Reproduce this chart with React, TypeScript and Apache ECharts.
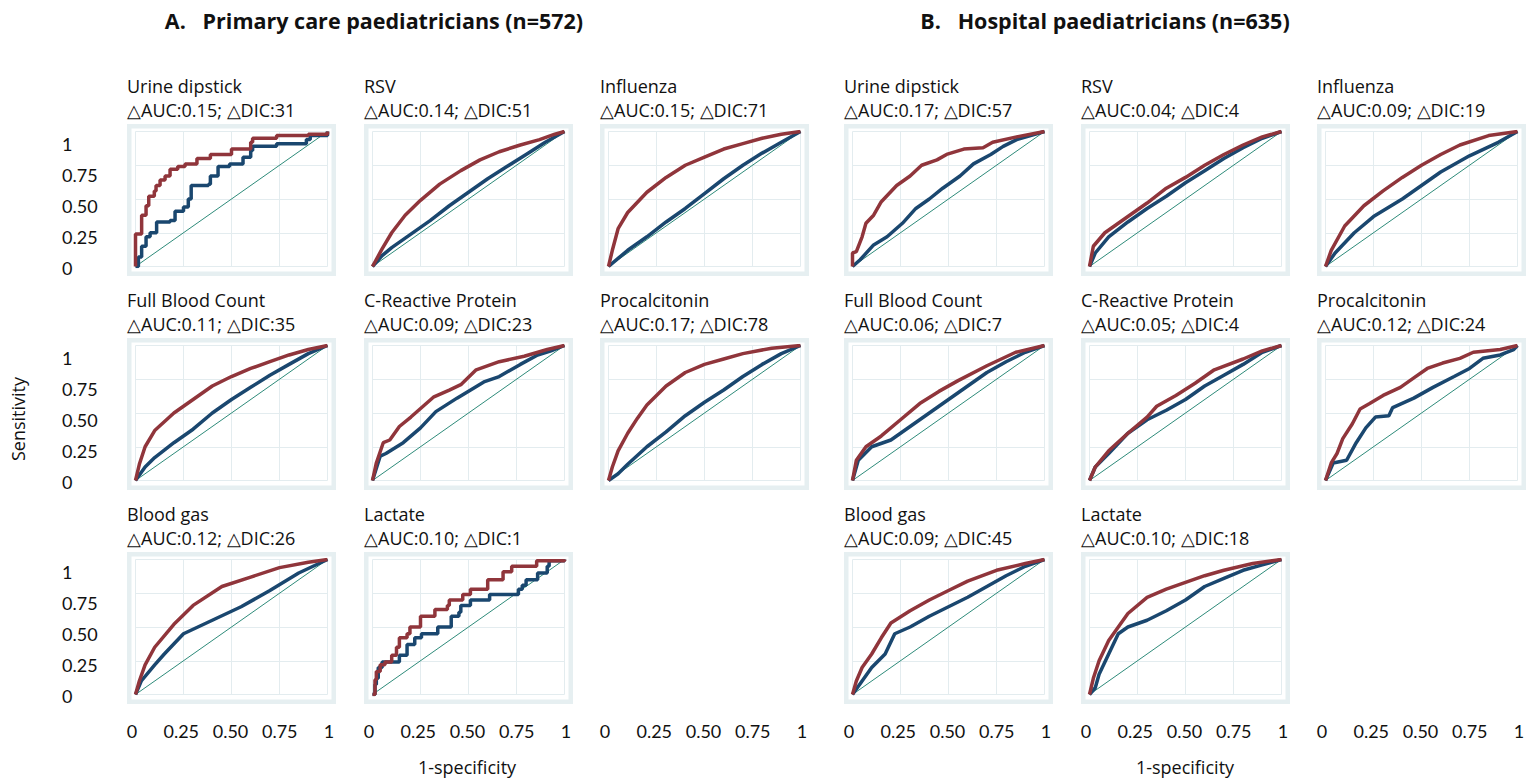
import React, { useEffect, useRef } from "react";
import * as echarts from "echarts";

// ---------- data ----------
const groupTitles = ["A.   Primary care paediatricians (n=572)", "B.   Hospital paediatricians (n=635)"];
const testNames = ["Urine dipstick", "RSV", "Influenza", "Full Blood Count", "C-Reactive Protein", "Procalcitonin", "Blood gas", "Lactate"];
const deltaA = ["△AUC:0.15; △DIC:31", "△AUC:0.14; △DIC:51", "△AUC:0.15; △DIC:71", "△AUC:0.11; △DIC:35", "△AUC:0.09; △DIC:23", "△AUC:0.17; △DIC:78", "△AUC:0.12; △DIC:26", "△AUC:0.10; △DIC:1"];
const deltaB = ["△AUC:0.17; △DIC:57", "△AUC:0.04; △DIC:4", "△AUC:0.09; △DIC:19", "△AUC:0.06; △DIC:7", "△AUC:0.05; △DIC:4", "△AUC:0.12; △DIC:24", "△AUC:0.09; △DIC:45", "△AUC:0.10; △DIC:18"];
const tickLabels = ["0", "0.25", "0.50", "0.75", "1"];
const tickValues = [0, 0.25, 0.5, 0.75, 1];
const diagonal = [[0, 0], [1, 1]];

// Primary care (A)
const aUrineRed = [[0,0],[0,0.24],[0.032,0.38],[0.055,0.45],[0.069,0.52],[0.098,0.56],[0.107,0.6],[0.128,0.64],[0.154,0.67],[0.18,0.72],[0.22,0.74],[0.258,0.76],[0.32,0.8],[0.39,0.83],[0.5,0.87],[0.6,0.92],[0.61,0.95],[0.735,0.97],[0.9,0.98],[1,1]];
const aUrineBlue = [[0,0],[0.015,0.07],[0.032,0.15],[0.055,0.22],[0.076,0.25],[0.11,0.33],[0.18,0.34],[0.206,0.41],[0.25,0.44],[0.275,0.5],[0.29,0.6],[0.38,0.61],[0.39,0.67],[0.43,0.74],[0.49,0.76],[0.56,0.81],[0.6,0.86],[0.61,0.89],[0.735,0.91],[0.89,0.94],[0.91,0.97],[1,1]];
const aRsvRed = [[0,0],[0.05,0.13],[0.1,0.25],[0.17,0.38],[0.25,0.49],[0.35,0.61],[0.46,0.71],[0.56,0.79],[0.66,0.85],[0.77,0.9],[0.87,0.94],[0.95,0.98],[1,1]];
const aRsvBlue = [[0,0],[0.05,0.08],[0.1,0.14],[0.2,0.24],[0.3,0.34],[0.4,0.45],[0.5,0.55],[0.6,0.65],[0.7,0.74],[0.8,0.83],[0.9,0.92],[1,1]];
const aFluRed = [[0,0],[0.02,0.12],[0.05,0.28],[0.1,0.4],[0.2,0.55],[0.3,0.66],[0.4,0.75],[0.5,0.81],[0.6,0.87],[0.7,0.91],[0.8,0.95],[0.9,0.98],[1,1]];
const aFluBlue = [[0,0],[0.05,0.06],[0.1,0.12],[0.2,0.22],[0.3,0.33],[0.4,0.43],[0.5,0.54],[0.6,0.65],[0.7,0.75],[0.8,0.84],[0.9,0.92],[1,1]];
const aFbcRed = [[0,0],[0.02,0.12],[0.05,0.25],[0.1,0.37],[0.2,0.5],[0.3,0.6],[0.4,0.7],[0.5,0.77],[0.6,0.83],[0.7,0.88],[0.8,0.93],[0.9,0.97],[1,1]];
const aFbcBlue = [[0,0],[0.05,0.1],[0.1,0.17],[0.2,0.28],[0.3,0.38],[0.4,0.5],[0.5,0.6],[0.6,0.69],[0.7,0.78],[0.8,0.86],[0.9,0.94],[1,1]];
const aCrpRed = [[0,0],[0.02,0.13],[0.056,0.28],[0.09,0.3],[0.14,0.4],[0.2,0.47],[0.32,0.62],[0.4,0.67],[0.46,0.71],[0.54,0.82],[0.66,0.88],[0.79,0.92],[0.91,0.97],[1,1]];
const aCrpBlue = [[0,0],[0.04,0.18],[0.07,0.2],[0.16,0.28],[0.25,0.39],[0.33,0.51],[0.44,0.61],[0.58,0.73],[0.66,0.77],[0.77,0.86],[0.86,0.93],[0.93,0.96],[1,1]];
const aPctRed = [[0,0],[0.02,0.1],[0.05,0.22],[0.1,0.35],[0.15,0.46],[0.2,0.56],[0.3,0.7],[0.4,0.8],[0.5,0.86],[0.6,0.9],[0.7,0.94],[0.85,0.98],[1,1]];
const aPctBlue = [[0,0],[0.05,0.05],[0.1,0.12],[0.2,0.25],[0.3,0.36],[0.4,0.48],[0.5,0.58],[0.6,0.67],[0.7,0.77],[0.8,0.86],[0.9,0.94],[1,1]];
const aGasRed = [[0,0],[0.02,0.1],[0.05,0.22],[0.1,0.35],[0.2,0.52],[0.3,0.66],[0.45,0.8],[0.6,0.87],[0.75,0.94],[0.9,0.98],[1,1]];
const aGasBlue = [[0,0],[0.03,0.1],[0.1,0.22],[0.15,0.3],[0.25,0.45],[0.4,0.55],[0.55,0.65],[0.7,0.77],[0.85,0.9],[1,1]];
const aLacRed = [[0,0],[0.013,0.11],[0.02,0.17],[0.04,0.22],[0.065,0.24],[0.1,0.29],[0.125,0.35],[0.14,0.42],[0.18,0.45],[0.195,0.5],[0.25,0.58],[0.325,0.63],[0.39,0.66],[0.4,0.7],[0.47,0.74],[0.51,0.78],[0.6,0.85],[0.68,0.91],[0.725,0.95],[0.855,0.99],[1,1]];
const aLacBlue = [[0,0],[0.013,0.075],[0.02,0.12],[0.03,0.2],[0.05,0.24],[0.14,0.29],[0.18,0.37],[0.22,0.42],[0.255,0.45],[0.34,0.5],[0.41,0.58],[0.45,0.61],[0.46,0.66],[0.51,0.7],[0.61,0.74],[0.76,0.78],[0.78,0.81],[0.8,0.85],[0.86,0.9],[0.91,0.95],[0.92,0.99],[1,1]];

// Hospital (B)
const bUrineRed = [[0,0],[0,0.1],[0.02,0.11],[0.05,0.22],[0.07,0.32],[0.11,0.38],[0.15,0.48],[0.23,0.6],[0.3,0.67],[0.36,0.75],[0.44,0.79],[0.49,0.83],[0.58,0.87],[0.68,0.88],[0.73,0.92],[0.855,0.96],[1,1]];
const bUrineBlue = [[0,0],[0.04,0.05],[0.11,0.16],[0.18,0.22],[0.26,0.32],[0.33,0.43],[0.4,0.5],[0.47,0.58],[0.56,0.67],[0.63,0.76],[0.72,0.83],[0.785,0.89],[0.855,0.94],[1,1]];
const bRsvRed = [[0,0],[0.02,0.15],[0.08,0.25],[0.2,0.37],[0.3,0.47],[0.4,0.58],[0.5,0.66],[0.6,0.75],[0.7,0.83],[0.8,0.9],[0.9,0.96],[1,1]];
const bRsvBlue = [[0,0],[0.03,0.1],[0.1,0.22],[0.2,0.33],[0.3,0.43],[0.4,0.52],[0.5,0.62],[0.6,0.71],[0.7,0.8],[0.8,0.88],[0.9,0.95],[1,1]];
const bFluRed = [[0,0],[0.03,0.12],[0.1,0.3],[0.2,0.45],[0.3,0.56],[0.4,0.66],[0.5,0.75],[0.6,0.83],[0.7,0.9],[0.85,0.97],[1,1]];
const bFluBlue = [[0,0],[0.05,0.1],[0.15,0.25],[0.25,0.37],[0.4,0.5],[0.5,0.6],[0.6,0.7],[0.75,0.82],[0.9,0.92],[1,1]];
const bFbcRed = [[0,0],[0.02,0.15],[0.07,0.25],[0.15,0.33],[0.25,0.45],[0.35,0.57],[0.45,0.66],[0.55,0.74],[0.7,0.85],[0.85,0.95],[1,1]];
const bFbcBlue = [[0,0],[0.03,0.15],[0.1,0.25],[0.2,0.3],[0.3,0.4],[0.4,0.5],[0.5,0.6],[0.6,0.7],[0.7,0.8],[0.8,0.88],[0.9,0.95],[1,1]];
const bCrpRed = [[0,0],[0.03,0.1],[0.1,0.22],[0.2,0.35],[0.3,0.47],[0.35,0.55],[0.45,0.63],[0.55,0.72],[0.65,0.82],[0.8,0.9],[0.9,0.96],[1,1]];
const bCrpBlue = [[0,0],[0.03,0.1],[0.1,0.2],[0.2,0.35],[0.3,0.45],[0.4,0.52],[0.5,0.6],[0.6,0.7],[0.7,0.78],[0.8,0.86],[0.9,0.95],[1,1]];
const bPctRed = [[0,0],[0.03,0.13],[0.06,0.2],[0.09,0.31],[0.14,0.42],[0.18,0.53],[0.23,0.57],[0.3,0.63],[0.39,0.69],[0.46,0.76],[0.53,0.83],[0.61,0.87],[0.7,0.905],[0.77,0.95],[0.91,0.97],[1,1]];
const bPctBlue = [[0,0],[0.04,0.13],[0.11,0.15],[0.16,0.28],[0.21,0.39],[0.26,0.47],[0.33,0.48],[0.35,0.54],[0.46,0.61],[0.56,0.69],[0.67,0.77],[0.75,0.83],[0.82,0.905],[0.91,0.93],[0.98,0.97],[1,1]];
const bGasRed = [[0,0],[0.02,0.1],[0.05,0.2],[0.1,0.3],[0.15,0.42],[0.2,0.53],[0.3,0.62],[0.4,0.7],[0.5,0.77],[0.6,0.84],[0.75,0.92],[0.9,0.97],[1,1]];
const bGasBlue = [[0,0],[0.05,0.1],[0.1,0.2],[0.17,0.3],[0.22,0.45],[0.3,0.5],[0.4,0.58],[0.5,0.65],[0.6,0.72],[0.7,0.8],[0.8,0.88],[0.9,0.95],[1,1]];
const bLacRed = [[0,0],[0.02,0.12],[0.05,0.25],[0.1,0.4],[0.15,0.5],[0.2,0.6],[0.3,0.72],[0.4,0.78],[0.5,0.83],[0.6,0.88],[0.7,0.92],[0.85,0.97],[1,1]];
const bLacBlue = [[0,0],[0.03,0.05],[0.05,0.15],[0.1,0.3],[0.15,0.45],[0.2,0.5],[0.3,0.55],[0.4,0.62],[0.5,0.7],[0.6,0.8],[0.7,0.86],[0.8,0.92],[0.9,0.96],[1,1]];

const redSets = [aUrineRed, aRsvRed, aFluRed, aFbcRed, aCrpRed, aPctRed, aGasRed, aLacRed, bUrineRed, bRsvRed, bFluRed, bFbcRed, bCrpRed, bPctRed, bGasRed, bLacRed];
const blueSets = [aUrineBlue, aRsvBlue, aFluBlue, aFbcBlue, aCrpBlue, aPctBlue, aGasBlue, aLacBlue, bUrineBlue, bRsvBlue, bFluBlue, bFbcBlue, bCrpBlue, bPctBlue, bGasBlue, bLacBlue];
const stepped = [true, false, false, false, false, false, false, true, false, false, false, false, false, false, false, false];

// ---------- layout ----------
const COL_X = [127, 364, 600, 844, 1081, 1317];
const ROW_Y = [124, 338, 552];
const FRAME_W = 209;
const FRAME_H = 152;
const FONT = "Lato, 'Open Sans', sans-serif";
const TFONT = "'Open Sans', Lato, sans-serif";
const RED = "#90353b";
const BLUE = "#1a476f";
const DIAG = "#2e8b7a";
const FRAME = "#e6eff1";
const GRIDC = "#e3ecef";

export default function App() {
  const ref = useRef<HTMLDivElement>(null);
  useEffect(() => {
    if (!ref.current) return;
    const chart = echarts.init(ref.current, null, { renderer: "svg" });
    const grid: any[] = [];
    const xAxis: any[] = [];
    const yAxis: any[] = [];
    const series: any[] = [];
    const graphic: any[] = [];

    const hiddenAxis = {
      type: "value", min: 0, max: 1, interval: 0.25,
      axisLine: { show: false }, axisTick: { show: false }, axisLabel: { show: false },
      splitLine: { show: true, lineStyle: { color: GRIDC, width: 1 } },
    };

    for (let p = 0; p < 16; p++) {
      const g = p < 8 ? 0 : 1;
      const k = p % 8;
      const col = g * 3 + (k % 3);
      const row = Math.floor(k / 3);
      const fl = COL_X[col];
      const ft = ROW_Y[row];
      const gi = grid.length;
      grid.push({ left: fl + 8.5, top: ft + 7.5, width: 192, height: 135 });
      xAxis.push({ ...hiddenAxis, gridIndex: gi });
      yAxis.push({ ...hiddenAxis, gridIndex: gi });
      series.push({ type: "line", xAxisIndex: gi, yAxisIndex: gi, data: diagonal, symbol: "none", silent: true, lineStyle: { color: DIAG, width: 1 }, z: 3 });
      series.push({ type: "line", xAxisIndex: gi, yAxisIndex: gi, data: blueSets[p], symbol: "none", step: stepped[p] ? "end" : false, lineStyle: { color: BLUE, width: 3.5 }, z: 4 });
      series.push({ type: "line", xAxisIndex: gi, yAxisIndex: gi, data: redSets[p], symbol: "none", step: stepped[p] ? "end" : false, lineStyle: { color: RED, width: 3.5 }, z: 5 });
      graphic.push({ type: "rect", z: -10, shape: { x: fl + 2.25, y: ft + 2.25, width: FRAME_W - 4.5, height: FRAME_H - 4.5 }, style: { fill: "#fff", stroke: FRAME, lineWidth: 4.5 } });
      graphic.push({ type: "text", x: fl, y: ft - 38, style: { text: testNames[k], font: `18px ${TFONT}`, fill: "#111", verticalAlign: "middle" } });
      graphic.push({ type: "text", x: fl, y: ft - 14, style: { text: (g === 0 ? deltaA : deltaB)[k], font: `18px ${TFONT}`, fill: "#111", verticalAlign: "middle" } });
    }

    // y tick labels (group A only)
    for (let r = 0; r < 3; r++) {
      const gi = grid.length;
      grid.push({ left: 0, top: ROW_Y[r] + 20, width: 62, height: 124 });
      xAxis.push({ type: "value", gridIndex: gi, min: 0, max: 1, show: false });
      yAxis.push({
        type: "value", gridIndex: gi, min: 0, max: 1, interval: 0.25, position: "right",
        axisLine: { show: false }, axisTick: { show: false }, splitLine: { show: false },
        axisLabel: { margin: 0, fontSize: 18, fontFamily: FONT, color: "#111", formatter: (v: number) => tickLabels[tickValues.indexOf(v)] },
      });
    }
    // x tick labels (all columns)
    for (let c = 0; c < 6; c++) {
      const gi = grid.length;
      grid.push({ left: COL_X[c] + 5, top: 690, width: 197, height: 30 });
      yAxis.push({ type: "value", gridIndex: gi, min: 0, max: 1, show: false });
      xAxis.push({
        type: "value", gridIndex: gi, min: 0, max: 1, interval: 0.25,
        axisLine: { show: false }, axisTick: { show: false }, splitLine: { show: false },
        axisLabel: { margin: 2, fontSize: 18, lineHeight: 18, fontFamily: FONT, color: "#111", formatter: (v: number) => tickLabels[tickValues.indexOf(v)] },
      });
    }

    graphic.push({ type: "text", x: 374, y: 20, style: { text: groupTitles[0], font: `bold 21.5px ${TFONT}`, fill: "#111", align: "center", verticalAlign: "middle" } });
    graphic.push({ type: "text", x: 1105, y: 20, style: { text: groupTitles[1], font: `bold 21.5px ${TFONT}`, fill: "#111", align: "center", verticalAlign: "middle" } });
    graphic.push({ type: "text", x: 18, y: 419, rotation: Math.PI / 2, style: { text: "Sensitivity", font: `18px ${TFONT}`, fill: "#111", align: "center", verticalAlign: "middle" } });
    graphic.push({ type: "text", x: 467, y: 767, style: { text: "1-specificity", font: `18px ${TFONT}`, fill: "#111", align: "center", verticalAlign: "middle" } });
    graphic.push({ type: "text", x: 1185, y: 767, style: { text: "1-specificity", font: `18px ${TFONT}`, fill: "#111", align: "center", verticalAlign: "middle" } });

    chart.setOption({ animation: false, backgroundColor: "#fff", grid, xAxis, yAxis, series, graphic });
    return () => chart.dispose();
  }, []);
  return <div ref={ref} style={{ position: "fixed", left: 0, top: 0, width: 1530, height: 780 }} />;
}
